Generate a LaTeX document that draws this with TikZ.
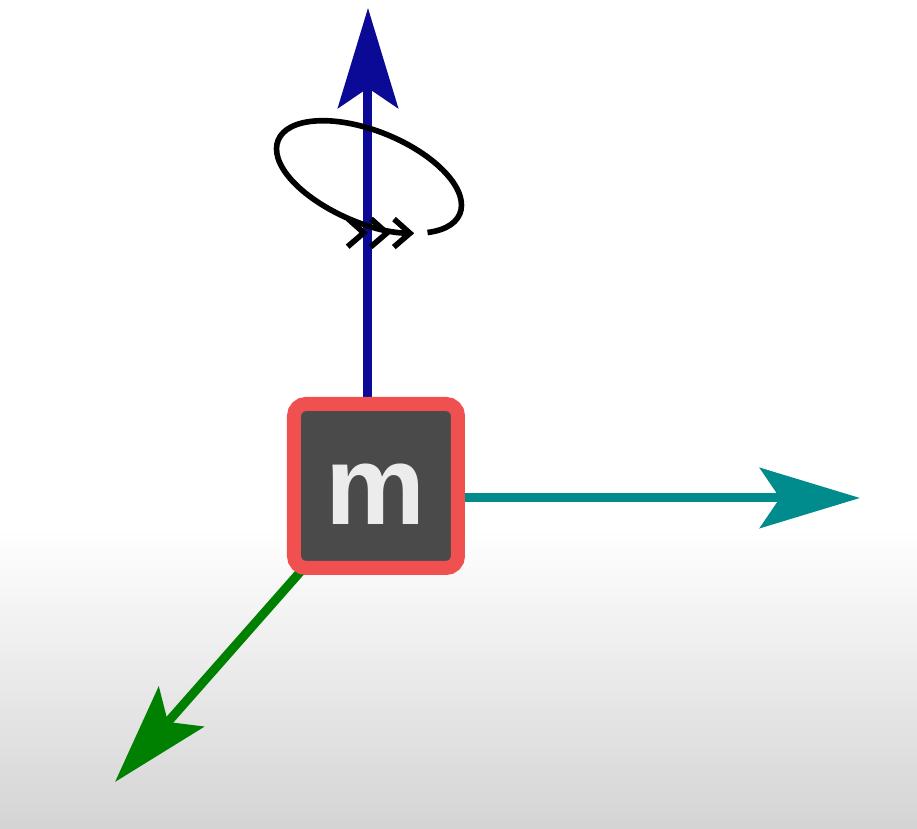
\documentclass[tikz,border=0pt]{standalone}
\definecolor{zaxis}{RGB}{10, 10, 150}
\definecolor{xaxis}{RGB}{0, 140, 140}
\definecolor{yaxis}{RGB}{0, 128, 0}
\definecolor{massred}{RGB}{240, 80, 80}
\definecolor{massfill}{RGB}{74, 74, 74}
\definecolor{floor}{RGB}{212, 212, 212}
\usepackage{fontspec}
\newfontfamily\massfont{Liberation Sans}
\usepackage{tikz}
\usetikzlibrary{arrows.meta}

\begin{document}
\begin{tikzpicture}[
    axis/.style={line width=0.09cm, -{Stealth[length=1.0cm, width=0.6cm, inset=0.2cm]}},
    massbox/.style={draw=massred, line width=0.14cm, fill=massfill, rounded corners=0.12cm, minimum size=1.64cm, inner sep=0pt},
    spin/.style={black, line width=1.6pt, -{Straight Barb[length=0.16cm, width=0.28cm] Straight Barb[length=0.16cm, width=0.28cm] Straight Barb[length=0.16cm, width=0.28cm]}}
  ]
        \useasboundingbox (0,0) rectangle (9.17,8.29);
        % Background
        \fill[white] (0,0) rectangle (9.17,8.29);
        \shade[top color=white, bottom color=floor] (0,0) rectangle (9.17,3.0);

        % Axis ends
        \coordinate (zfoot) at (3.68, 3.43);
        \coordinate (ztip) at (3.68, 8.21);
        \coordinate (xfoot) at (3.76, 3.31);
        \coordinate (xtip) at (8.60, 3.31);
        \coordinate (yfoot) at (3.76, 3.43);
        \coordinate (ytip) at (1.15, 0.47);

        % Axes
        \draw[axis, zaxis] (zfoot) -- (ztip);
        \draw[axis, xaxis] (xfoot) -- (xtip);
        \draw[axis, yaxis] (yfoot) -- (ytip);

        % Mass
        \node[massbox] (mass) at (3.76, 3.43) {\raisebox{-10.9pt}[0pt][0pt]{\massfont\bfseries\fontsize{32}{32}\selectfont\color{gray!15}m}};

        % Rotation about the vertical axis
        \draw[spin, shift={(3.69, 6.52)}, rotate=-22]
          (-40:0.98 and 0.46) arc[start angle=-40, end angle=310, x radius=0.98, y radius=0.46];
      \end{tikzpicture}
\end{document}
